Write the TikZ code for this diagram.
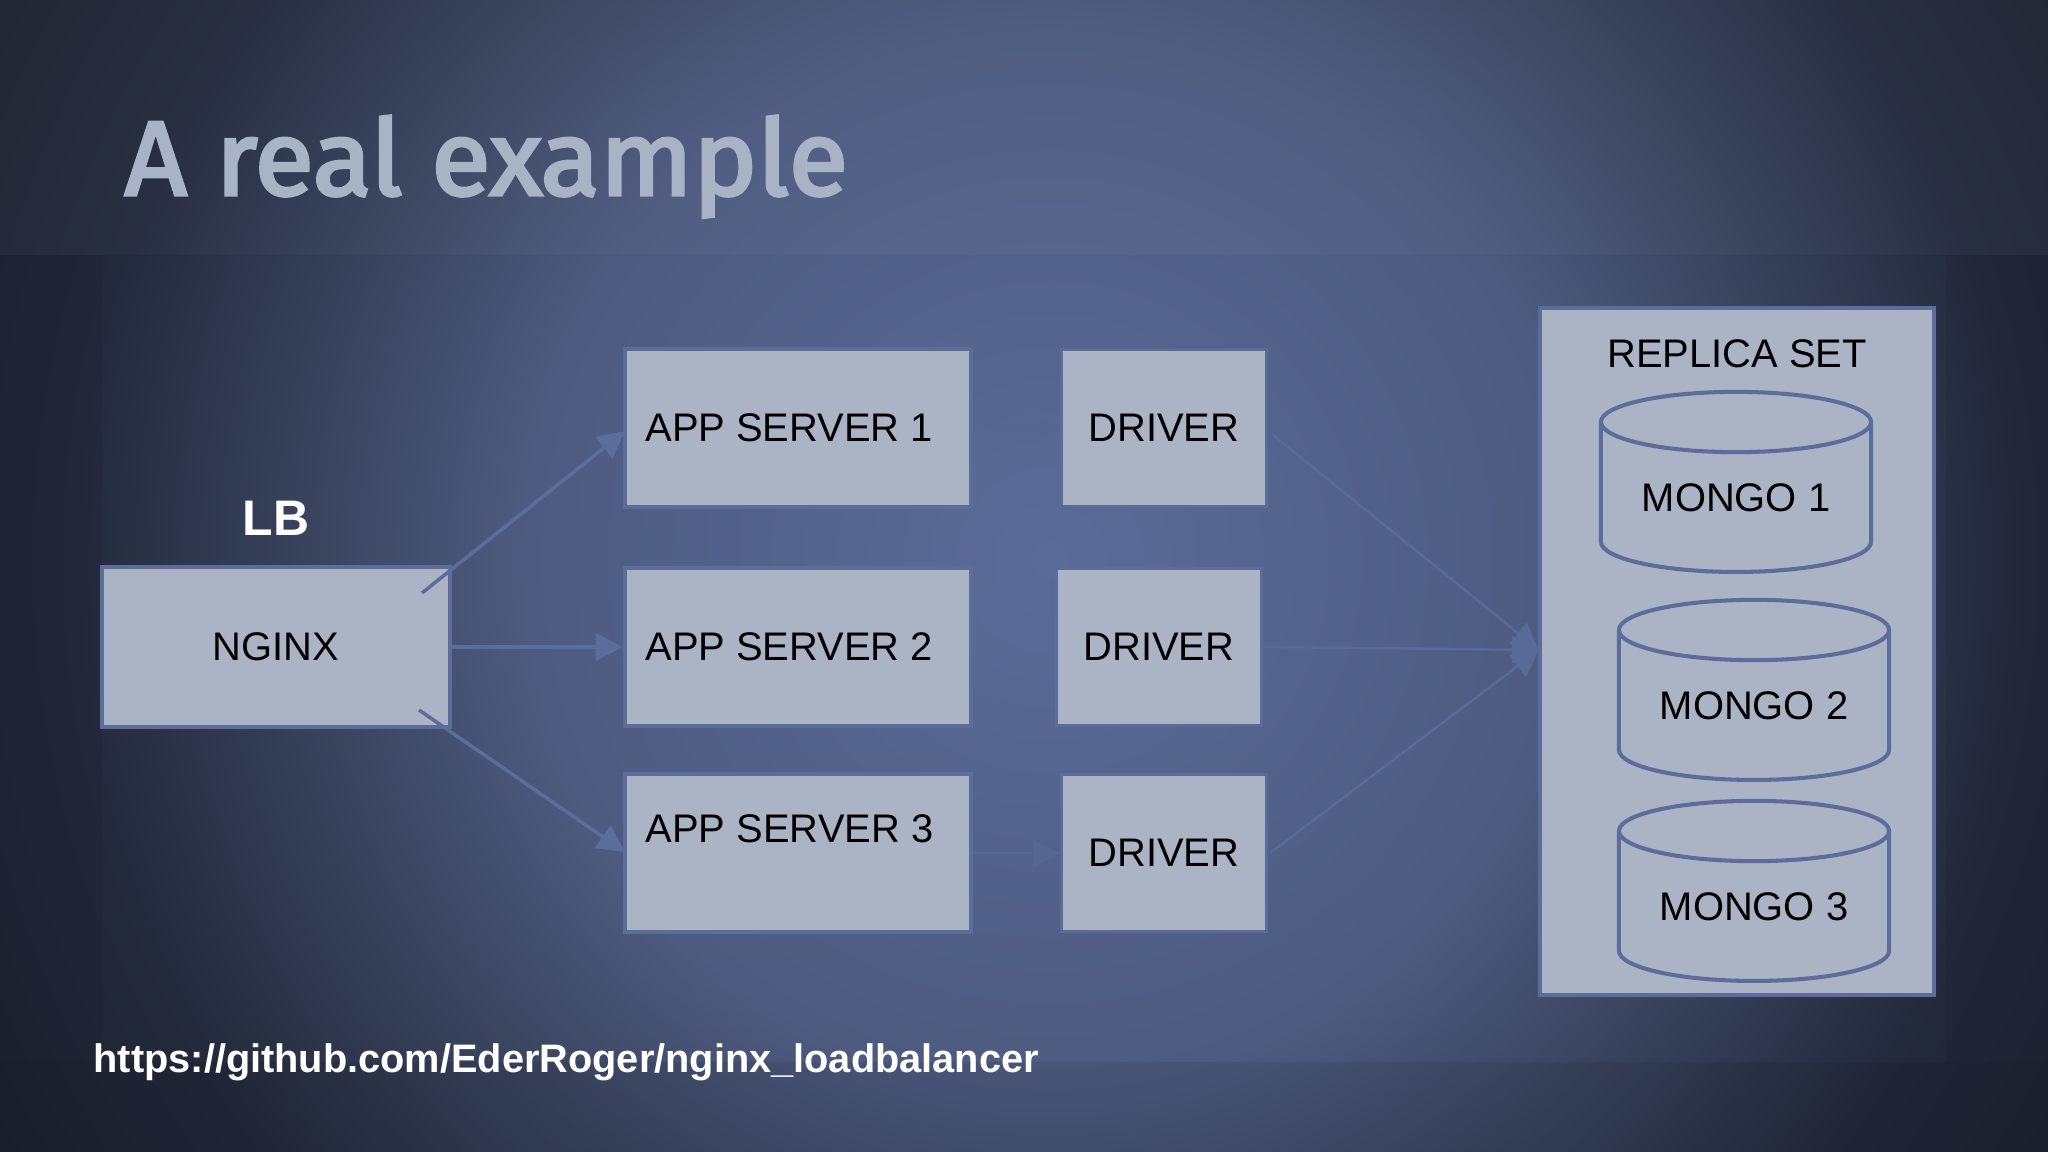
\documentclass[tikz,border=0pt]{standalone}
\usepackage{fontspec}
\setmainfont{Liberation Sans}
\newfontfamily\titlefont[FakeBold=3,FakeStretch=1.03]{Fira Sans}
\usetikzlibrary{shapes.geometric,arrows.meta}
\definecolor{slidefill}{HTML}{ABB4C5}
\definecolor{slideline}{HTML}{5B6D9B}
\definecolor{slidetitle}{HTML}{A9B3C6}
\definecolor{bgmid}{HTML}{5B6B98}
\definecolor{bgnear}{HTML}{4D5B80}
\definecolor{bgfar}{HTML}{3A4560}
\definecolor{bgdark}{HTML}{232A3C}
\definecolor{bgedge}{HTML}{1A1F2C}
\pgfdeclareradialshading{slidebg}{\pgfpoint{0bp}{0bp}}{color(0bp)=(bgmid); color(10.5bp)=(bgnear); color(14.5bp)=(bgfar); color(19.5bp)=(bgdark); color(25bp)=(bgedge); color(50bp)=(bgedge)}
\tikzset{
    box/.style={draw=slideline, line width=1.15pt, fill=slidefill, inner sep=0pt, font=\fontsize{11.35}{13}\selectfont, text=black},
    appbox/.style={box, minimum width=3.46cm, minimum height=1.57cm, text width=3.05cm, align=flush left},
    driverbox/.style={box, draw=slideline!55!bgmid, line width=.7pt, minimum width=2.05cm, minimum height=1.57cm},
    dbcyl/.style={box, cylinder, shape border rotate=90, aspect=.32, minimum width=2.7cm, minimum height=1.8cm},
    boxtext/.style={font=\fontsize{11.35}{13}\selectfont, text=black, inner sep=0pt},
    flow/.style={draw=slideline, line width=1pt, -{Triangle[length=.27cm,width=.27cm]}},
    faint/.style={draw=slideline!85!bgnear, line width=.7pt, -{Triangle[length=.27cm,width=.27cm]}}
}

\begin{document}
\begin{tikzpicture}[x=.01cm,y=-.01cm]
    \useasboundingbox (0,0) rectangle (2048,1152);
    \begin{scope}
    \clip (0,0) rectangle (2048,1152);
    \path[shading=slidebg] (-200,-690) rectangle (2300,1810);
    \fill[white, opacity=.025] (0,0) rectangle (2048,255);
    \fill[black, opacity=.08] (0,1062) rectangle (2048,1152);
    \fill[black, opacity=.05] (0,255) rectangle (102,1062);
    \fill[black, opacity=.05] (1946,255) rectangle (2048,1062);
    \end{scope}
    % title and link
    \node[anchor=base west, inner sep=0pt, text=slidetitle, font=\titlefont\fontsize{30}{34}\selectfont] (title) at (124,195) {A real example};
    \node[anchor=west, inner sep=0pt, text=white, font=\bfseries\fontsize{11.3}{13}\selectfont] (link) at (93,1062) {https://github.com/EderRoger/nginx\_loadbalancer};
    % load balancer
    \node[box] (nginx) at (276,647) [minimum width=3.48cm, minimum height=1.6cm] {NGINX};
    \node[inner sep=0pt, text=white, font=\bfseries\fontsize{14.2}{17}\selectfont] (lb) at (276,518) {LB};
    % app servers
    \node[appbox] (appa) at (798,428) {APP SERVER 1};
    \node[appbox] (appb) at (798,647) {APP SERVER 2};
    \node[appbox] (appc) at (798,853) {};
    \node[boxtext, anchor=west] (appctext) at (645,829) {APP SERVER 3};
    % drivers
    \node[driverbox] (drva) at (1164,428) {DRIVER};
    \node[driverbox] (drvb) at (1159,647) {DRIVER};
    \node[driverbox] (drvc) at (1164,853) {DRIVER};
    % replica set
    \node[box, minimum width=3.94cm, minimum height=6.87cm] (replica) at (1737,651.5) {};
    \node[boxtext] (replicatext) at (1737,354) {REPLICA SET};
    \node[dbcyl] (mongoa) at (1736,498) {MONGO 1};
    \node[dbcyl] (mongob) at (1754,706) {MONGO 2};
    \node[dbcyl] (mongoc) at (1754,907) {MONGO 3};
    % free ends of the connectors
    \coordinate (lbup) at (422,593);
    \coordinate (lbdown) at (419,710);
    \coordinate (appaend) at (625,431);
    \coordinate (appcend) at (625,852);
    \coordinate (drvaend) at (1273,435);
    \coordinate (drvcend) at (1270,853);
    \coordinate (replicain) at (1539,650);
    \draw[flow] (lbup) -- (appaend);
    \draw[flow] (nginx.east) -- (appb.west);
    \draw[flow] (lbdown) -- (appcend);
    \draw[faint, draw=bgmid!70!bgnear] (appa.east) -- (drva.west);
    \draw[faint, draw=slideline!60!bgnear] (appc.east) -- (drvc.west);
    \draw[faint] (drvaend) -- (replicain);
    \draw[faint] (drvb.east) -- (replicain);
    \draw[faint] (drvcend) -- (replicain);
\end{tikzpicture}
\end{document}
